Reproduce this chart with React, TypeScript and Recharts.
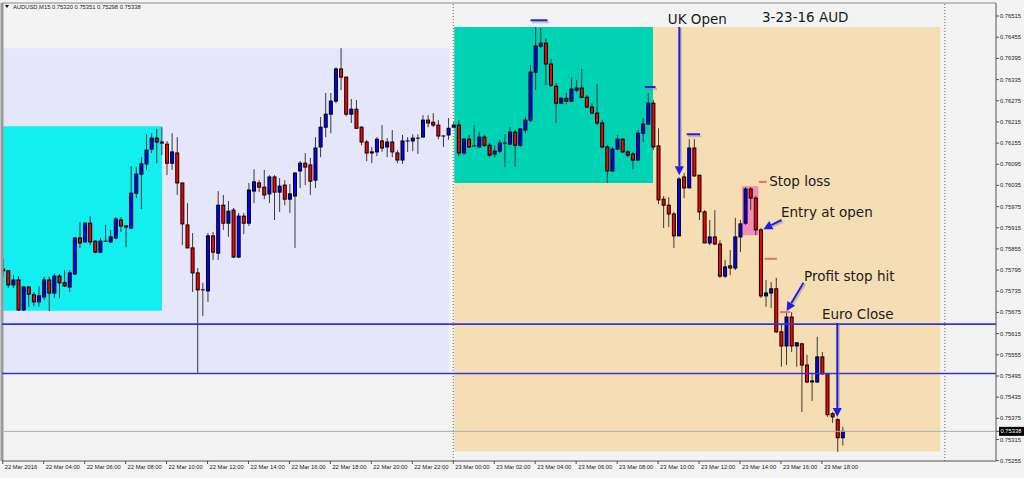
import React from 'react';
import { ComposedChart, Bar, XAxis, YAxis, ReferenceArea, ReferenceLine, ReferenceDot } from 'recharts';

const opens = [0.75798,0.75793,0.75753,0.75767,0.75682,0.75747,0.75725,0.75705,0.75719,0.75767,0.75730,0.75778,0.75759,0.75747,0.75784,0.75886,0.75875,0.75928,0.75877,0.75846,0.75877,0.75875,0.75886,0.75937,0.75920,0.75914,0.76013,0.76067,0.76096,0.76138,0.76169,0.76158,0.76152,0.76098,0.76127,0.76042,0.75923,0.75858,0.75787,0.75739,0.75736,0.75892,0.75843,0.75979,0.75928,0.75965,0.75832,0.75948,0.75928,0.76019,0.76042,0.76030,0.76011,0.76059,0.76016,0.76036,0.75996,0.76005,0.76076,0.76098,0.76093,0.76050,0.76144,0.76200,0.76237,0.76274,0.76365,0.76342,0.76237,0.76251,0.76200,0.76158,0.76127,0.76130,0.76161,0.76144,0.76158,0.76127,0.76107,0.76161,0.76161,0.76169,0.76172,0.76220,0.76214,0.76206,0.76175,0.76178,0.76200,0.76206,0.76127,0.76166,0.76147,0.76144,0.76172,0.76149,0.76124,0.76132,0.76155,0.76152,0.76186,0.76149,0.76192,0.76220,0.76356,0.76430,0.76438,0.76379,0.76316,0.76268,0.76282,0.76274,0.76305,0.76311,0.76285,0.76257,0.76240,0.76212,0.76144,0.76076,0.76138,0.76166,0.76130,0.76124,0.76107,0.76183,0.76209,0.76268,0.76147,0.75996,0.75979,0.75954,0.75892,0.76059,0.76028,0.76141,0.76064,0.75960,0.75872,0.75889,0.75869,0.75778,0.75807,0.75801,0.75889,0.75928,0.76025,0.75999,0.75909,0.75722,0.75730,0.75742,0.75620,0.75580,0.75662,0.75580,0.75586,0.75526,0.75481,0.75478,0.75549,0.75501,0.75388,0.75371,0.75320];
const highs = [0.75829,0.75795,0.75781,0.75778,0.75750,0.75750,0.75733,0.75750,0.75776,0.75776,0.75784,0.75784,0.75795,0.75795,0.75889,0.75931,0.75931,0.75948,0.75880,0.75886,0.75923,0.75909,0.75945,0.75945,0.75923,0.76090,0.76087,0.76115,0.76180,0.76183,0.76195,0.76200,0.76161,0.76183,0.76172,0.76042,0.75985,0.75900,0.75801,0.75759,0.75900,0.75903,0.76019,0.76008,0.75991,0.75971,0.75957,0.75957,0.76042,0.76081,0.76050,0.76079,0.76064,0.76064,0.76056,0.76050,0.76039,0.76073,0.76104,0.76127,0.76113,0.76172,0.76229,0.76297,0.76297,0.76370,0.76424,0.76342,0.76280,0.76277,0.76203,0.76164,0.76144,0.76172,0.76206,0.76169,0.76192,0.76135,0.76178,0.76172,0.76180,0.76180,0.76234,0.76234,0.76240,0.76220,0.76178,0.76226,0.76214,0.76220,0.76169,0.76178,0.76206,0.76186,0.76178,0.76155,0.76149,0.76164,0.76180,0.76200,0.76192,0.76197,0.76229,0.76376,0.76484,0.76481,0.76452,0.76393,0.76325,0.76285,0.76297,0.76342,0.76333,0.76365,0.76291,0.76268,0.76322,0.76220,0.76149,0.76144,0.76178,0.76169,0.76135,0.76130,0.76192,0.76226,0.76297,0.76277,0.76197,0.76005,0.76002,0.75960,0.76059,0.76070,0.76166,0.76166,0.76064,0.75965,0.75937,0.75965,0.75880,0.75824,0.75852,0.75943,0.75937,0.76030,0.76030,0.76005,0.75914,0.75767,0.75761,0.75773,0.75640,0.75676,0.75676,0.75591,0.75589,0.75555,0.75504,0.75606,0.75563,0.75504,0.75393,0.75376,0.75351];
const lows = [0.75776,0.75744,0.75744,0.75679,0.75679,0.75691,0.75693,0.75691,0.75710,0.75679,0.75716,0.75716,0.75747,0.75733,0.75781,0.75858,0.75872,0.75866,0.75843,0.75843,0.75875,0.75872,0.75883,0.75903,0.75860,0.75911,0.75999,0.75968,0.76079,0.76127,0.76098,0.76121,0.76064,0.76079,0.76008,0.75866,0.75858,0.75733,0.75504,0.75665,0.75705,0.75824,0.75824,0.75909,0.75889,0.75829,0.75829,0.75897,0.75920,0.75985,0.76016,0.75996,0.75985,0.75937,0.75960,0.75979,0.75957,0.75858,0.76028,0.76036,0.76008,0.76028,0.76115,0.76172,0.76183,0.76268,0.76305,0.76231,0.76212,0.76195,0.76149,0.76104,0.76098,0.76118,0.76130,0.76115,0.76115,0.76098,0.76096,0.76130,0.76132,0.76124,0.76172,0.76200,0.76200,0.76166,0.76144,0.76164,0.76197,0.76118,0.76121,0.76141,0.76144,0.76141,0.76144,0.76115,0.76115,0.76127,0.76087,0.76149,0.76087,0.76144,0.76183,0.76214,0.76305,0.76424,0.76319,0.76314,0.76212,0.76265,0.76265,0.76271,0.76299,0.76282,0.76254,0.76237,0.76206,0.76141,0.76042,0.76073,0.76135,0.76127,0.76115,0.76081,0.76104,0.76158,0.76206,0.76135,0.75982,0.75914,0.75917,0.75858,0.75892,0.75999,0.76028,0.76059,0.75937,0.75872,0.75866,0.75866,0.75773,0.75773,0.75781,0.75795,0.75846,0.75923,0.75965,0.75894,0.75716,0.75691,0.75688,0.75617,0.75521,0.75526,0.75563,0.75521,0.75393,0.75475,0.75424,0.75475,0.75498,0.75379,0.75362,0.75280,0.75298];
const closes = [0.75793,0.75753,0.75767,0.75682,0.75747,0.75727,0.75705,0.75722,0.75767,0.75730,0.75778,0.75759,0.75750,0.75787,0.75886,0.75872,0.75928,0.75875,0.75846,0.75877,0.75875,0.75889,0.75940,0.75920,0.75917,0.76013,0.76067,0.76096,0.76135,0.76169,0.76158,0.76155,0.76098,0.76130,0.76042,0.75926,0.75858,0.75787,0.75739,0.75738,0.75892,0.75846,0.75979,0.75928,0.75962,0.75832,0.75948,0.75928,0.76022,0.76045,0.76030,0.76008,0.76059,0.76016,0.76033,0.75996,0.76011,0.76070,0.76098,0.76087,0.76047,0.76141,0.76200,0.76237,0.76274,0.76365,0.76342,0.76237,0.76251,0.76197,0.76158,0.76127,0.76130,0.76166,0.76141,0.76158,0.76130,0.76107,0.76161,0.76160,0.76169,0.76168,0.76220,0.76212,0.76206,0.76175,0.76174,0.76197,0.76206,0.76127,0.76166,0.76144,0.76146,0.76172,0.76149,0.76121,0.76132,0.76155,0.76154,0.76186,0.76149,0.76195,0.76220,0.76356,0.76430,0.76438,0.76379,0.76319,0.76268,0.76282,0.76274,0.76308,0.76311,0.76285,0.76257,0.76240,0.76212,0.76144,0.76076,0.76138,0.76166,0.76130,0.76121,0.76107,0.76183,0.76209,0.76268,0.76144,0.75994,0.75979,0.75954,0.75892,0.76053,0.76028,0.76141,0.76062,0.75960,0.75872,0.75889,0.75869,0.75778,0.75804,0.75801,0.75889,0.75926,0.76025,0.75999,0.75909,0.75722,0.75730,0.75742,0.75620,0.75580,0.75662,0.75580,0.75589,0.75526,0.75478,0.75478,0.75549,0.75501,0.75385,0.75379,0.75320,0.75338];

const xTicks = [0, 8, 16, 24, 32, 40, 48, 56, 64, 72, 80, 88, 96, 104, 112, 120, 128, 136, 144, 152, 160];
const xTickLabels = ['22 Mar 2016', '22 Mar 04:00', '22 Mar 06:00', '22 Mar 08:00', '22 Mar 10:00', '22 Mar 12:00', '22 Mar 14:00', '22 Mar 16:00', '22 Mar 18:00', '22 Mar 20:00', '22 Mar 22:00', '23 Mar 00:00', '23 Mar 02:00', '23 Mar 04:00', '23 Mar 06:00', '23 Mar 08:00', '23 Mar 10:00', '23 Mar 12:00', '23 Mar 14:00', '23 Mar 16:00', '23 Mar 18:00'];
const yTicks = [0.75255, 0.75315, 0.75338, 0.75375, 0.75435, 0.75495, 0.75555, 0.75615, 0.75675, 0.75735, 0.75795, 0.75855, 0.75915, 0.75975, 0.76035, 0.76095, 0.76155, 0.76215, 0.76275, 0.76335, 0.76395, 0.76455, 0.76515];
const lastPrice = 0.75338;
const headerText = 'AUDUSD,M15  0.75320 0.75351 0.75298 0.75338';

const xDomain = [-0.14, 194];
const yDomain = [0.75254, 0.76552];

const boxes = [
  { x1: -0.5, x2: 87.2, y1: 0.75504, y2: 0.76424, fill: '#E6E6FA' },
  { x1: -0.5, x2: 31.1, y1: 0.75680, y2: 0.76203, fill: '#13EEF0' },
  { x1: 88.2, x2: 183.1, y1: 0.75281, y2: 0.76484, fill: '#F5DEB3' },
  { x1: 88.2, x2: 127.0, y1: 0.76042, y2: 0.76484, fill: '#00D2B4' },
  { x1: 144.4, x2: 147.6, y1: 0.75894, y2: 0.76033, fill: '#F28DB6' },
];
const levelLines = [0.75642, 0.75502];
const separators = [88, 184];
const blueDashes = [
  { x1: 103.1, x2: 106.4, y: 0.76503 },
  { x1: 125.4, x2: 127.5, y: 0.76314 },
  { x1: 133.6, x2: 136.2, y: 0.76180 },
];
const redDashes = [
  { x1: 147.7, x2: 149.2, y: 0.76045 },
  { x1: 148.8, x2: 151.2, y: 0.75827 },
  { x1: 151.8, x2: 153.8, y: 0.75676 },
];
const arrows = [
  { x1: 132.15, y1: 0.76484, x2: 132.15, y2: 0.76064 },
  { x1: 152.1, y1: 0.75937, x2: 148.56, y2: 0.75911 },
  { x1: 156.4, y1: 0.75759, x2: 153.1, y2: 0.75679 },
  { x1: 163.0, y1: 0.75645, x2: 163.0, y2: 0.75379 },
];
const notes = [
  { text: 'UK Open', x: 129.9, y: 0.76506 },
  { text: '3-23-16  AUD', x: 148.3, y: 0.76512 },
  { text: 'Stop loss', x: 149.7, y: 0.76047 },
  { text: 'Entry at open', x: 152.0, y: 0.75960 },
  { text: 'Profit stop hit', x: 156.5, y: 0.75778 },
  { text: 'Euro Close', x: 160.0, y: 0.75671 },
];

const candles = opens.map((o, i) => ({ i, o, h: highs[i], l: lows[i], c: closes[i] }));

const SMALL_FONT = '"Liberation Sans", Arial, sans-serif';
const NOTE_FONT = '"DejaVu Sans", Verdana, sans-serif';

const Candle = (props: any) => {
  const { x, y, width, height, payload } = props;
  if (!payload || x == null || y == null) return null;
  const { o, h, l, c } = payload;
  const cx = x + width / 2;
  const top = Math.min(y, y + height);
  const span = Math.abs(height);
  const toY = (p: number) => (h === l ? top : top + ((h - p) / (h - l)) * span);
  const yo = toY(o);
  const yc = toY(c);
  const bt = Math.min(yo, yc);
  const bh = Math.abs(yo - yc);
  const bull = c > o;
  return (
    <g>
      <line x1={cx} x2={cx} y1={top} y2={top + span} stroke="#3a3a3a" strokeWidth={1} />
      {bh < 1 ? (
        <line x1={cx - 2} x2={cx + 2} y1={yo} y2={yo} stroke="#000" strokeWidth={1} />
      ) : (
        <rect x={cx - 1.5} y={bt} width={3} height={bh} fill={bull ? '#0000FF' : '#FF0000'} stroke="#000" strokeWidth={1} />
      )}
    </g>
  );
};

const XTick = (props: any) => {
  const { x, y, payload } = props;
  const idx = xTicks.indexOf(payload.value);
  return (
    <text x={x + 2} y={y} dy="0.35em" textAnchor="start" fontSize={5.8} fontFamily={SMALL_FONT} fill="#222">
      {idx >= 0 ? xTickLabels[idx] : ''}
    </text>
  );
};

const YTick = (props: any) => {
  const { x, y, payload } = props;
  const v = payload.value as number;
  if (Math.abs(v - lastPrice) < 1e-7) {
    return (
      <g>
        <rect x={x - 1} y={y - 4.5} width={25} height={9} fill="#000" />
        <text x={x + 0.5} y={y} dy="0.35em" textAnchor="start" fontSize={5.8} fontFamily={SMALL_FONT} fill="#fff">
          {v.toFixed(5)}
        </text>
      </g>
    );
  }
  return (
    <text x={x} y={y} dy="0.35em" textAnchor="start" fontSize={5.8} fontFamily={SMALL_FONT} fill="#222">
      {v.toFixed(5)}
    </text>
  );
};

const arrowShape = (p: any) => {
  const x1 = Number(p.x1), y1 = Number(p.y1), x2 = Number(p.x2), y2 = Number(p.y2);
  const dx = x2 - x1, dy = y2 - y1;
  const len = Math.hypot(dx, dy) || 1;
  const ux = dx / len, uy = dy / len;
  const hl = 9, hw = 4.5;
  const bx = x2 - ux * hl, by = y2 - uy * hl;
  const pts = `${x2},${y2} ${bx - uy * hw},${by + ux * hw} ${bx + uy * hw},${by - ux * hw}`;
  return (
    <g>
      <line x1={x1 + 1.5} y1={y1 + 1.5} x2={bx + 1.5} y2={by + 1.5} stroke="#888" strokeOpacity={0.45} strokeWidth={2} />
      <line x1={x1} y1={y1} x2={bx} y2={by} stroke="#1E1EE6" strokeWidth={2} />
      <polygon points={pts} fill="#1E1EE6" />
    </g>
  );
};

const dashShape = (color: string, shadow: boolean) => (p: any) => {
  const x1 = Number(p.x1), y1 = Number(p.y1), x2 = Number(p.x2), y2 = Number(p.y2);
  return (
    <g>
      {shadow && <line x1={x1 + 1.5} y1={y1 + 2} x2={x2 + 1.5} y2={y2 + 2} stroke="#888" strokeOpacity={0.45} strokeWidth={2} />}
      <line x1={x1} y1={y1} x2={x2} y2={y2} stroke={color} strokeWidth={2} />
    </g>
  );
};

const noteShape = (text: string) => (p: any) => (
  <text x={p.cx} y={p.cy} dominantBaseline="central" textAnchor="start" fontSize={13.5} fontFamily={NOTE_FONT} fill="#1a1a1a">
    {text}
  </text>
);

export default function App() {
  return (
    <div style={{ position: 'absolute', left: 0, top: 0, width: 1024, height: 478, background: '#F3F3F3', overflow: 'hidden' }}>
      <ComposedChart width={1024} height={478} data={candles} margin={{ top: 3, right: 0, bottom: 0, left: 2 }}>
        <XAxis
          dataKey="i"
          type="number"
          domain={xDomain}
          allowDataOverflow
          ticks={xTicks}
          interval={0}
          height={17}
          tick={<XTick />}
          tickSize={3}
          tickMargin={3}
          tickLine={{ stroke: '#555' }}
          axisLine={{ stroke: '#555' }}
        />
        <YAxis
          orientation="right"
          type="number"
          domain={yDomain}
          allowDataOverflow
          ticks={yTicks}
          interval={0}
          width={28}
          tick={<YTick />}
          tickSize={3}
          tickMargin={1}
          tickLine={{ stroke: '#555' }}
          axisLine={{ stroke: '#555' }}
        />
        {boxes.map((b, k) => (
          <ReferenceArea key={'b' + k} x1={b.x1} x2={b.x2} y1={b.y1} y2={b.y2} fill={b.fill} fillOpacity={1} stroke="none" ifOverflow="hidden" />
        ))}
        {separators.map((s, k) => (
          <ReferenceLine key={'s' + k} x={s} stroke="#666" strokeDasharray="1 2" strokeWidth={1} ifOverflow="visible" />
        ))}
        <ReferenceLine y={yDomain[1]} stroke="#888" strokeWidth={1} ifOverflow="visible" />
        <ReferenceLine x={xDomain[0]} stroke="#9a9a9a" strokeWidth={3} ifOverflow="visible" />
        <ReferenceLine y={lastPrice} stroke="#A8AEB8" strokeWidth={1} />
        {levelLines.map((v, k) => (
          <ReferenceLine key={'l' + k} y={v} stroke="#3434D4" strokeWidth={1.6} />
        ))}
        <Bar dataKey={(d: any) => [d.l, d.h]} shape={<Candle />} barSize={4} isAnimationActive={false} />
        {blueDashes.map((d, k) => (
          <ReferenceLine key={'bd' + k} segment={[{ x: d.x1, y: d.y }, { x: d.x2, y: d.y }]} shape={dashShape('#1E1EE6', true)} ifOverflow="visible" />
        ))}
        {redDashes.map((d, k) => (
          <ReferenceLine key={'rd' + k} segment={[{ x: d.x1, y: d.y }, { x: d.x2, y: d.y }]} shape={dashShape('#F06A6A', false)} ifOverflow="visible" />
        ))}
        {arrows.map((a, k) => (
          <ReferenceLine key={'a' + k} segment={[{ x: a.x1, y: a.y1 }, { x: a.x2, y: a.y2 }]} shape={arrowShape} ifOverflow="visible" />
        ))}
        {notes.map((n, k) => (
          <ReferenceDot key={'n' + k} x={n.x} y={n.y} r={1} shape={noteShape(n.text)} ifOverflow="visible" />
        ))}
      </ComposedChart>
      <svg width={200} height={14} style={{ position: 'absolute', left: 0, top: 0 }}>
        <polygon points="5,5 9,5 7,8" fill="#111" />
        <text x={13} y={7} dy="0.35em" fontSize={5.8} fontFamily={SMALL_FONT} fill="#222">{headerText}</text>
      </svg>
    </div>
  );
}
